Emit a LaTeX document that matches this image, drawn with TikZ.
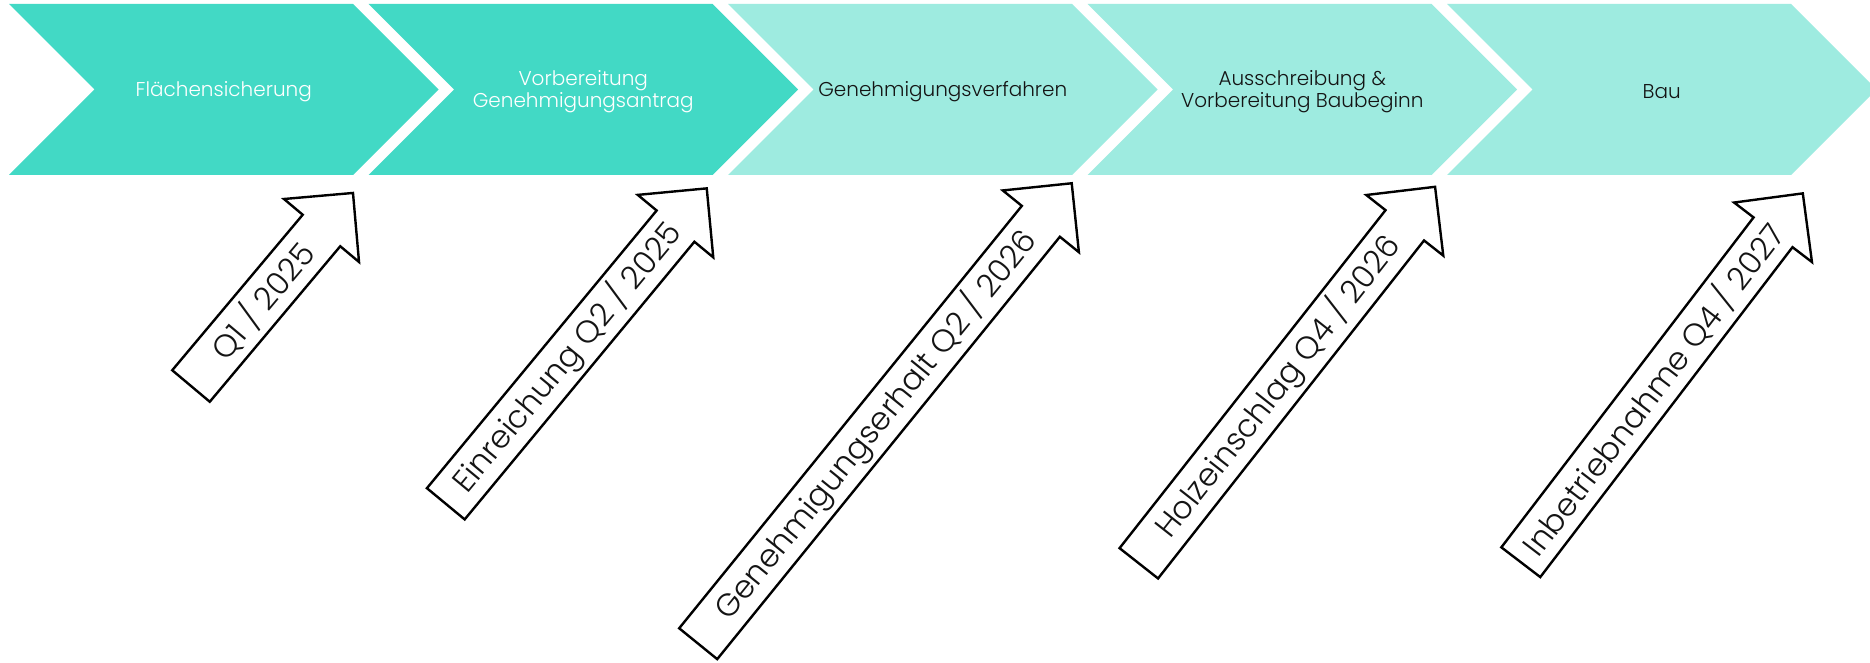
\documentclass[tikz,border=0pt]{standalone}
\usepackage{fontspec}
\setmainfont{Poppins}
\newfontfamily\lightfont{Poppins Light}
\definecolor{tealdark}{RGB}{66,217,197}
\definecolor{teallight}{RGB}{158,235,224}
\definecolor{inkblack}{RGB}{20,20,20}
\newcommand\chevronshape[2]{%
  \fill[#2] (#1,4) -- ++(344,0) -- ++(85.5,85.5) -- ++(-85.5,85.5) -- ++(-344,0) -- ++(85.5,-85.5) -- cycle;}
\newcommand\blockarrow[5]{%
  \begin{scope}[shift={#2}, rotate=#3]
    \draw[arrowline] (0,-24.5) -- ({#4-49},-24.5) -- ({#4-49},-49) -- (#4,0) -- ({#4-49},49) -- ({#4-49},24.5) -- (0,24.5) -- cycle;
    \node[arrowtext, rotate=#3] (#1) at ({(#4-49)/2+10},0) {#5};
  \end{scope}}
\begin{document}
\begin{tikzpicture}[x=1pt,y=-1pt,
  arrowline/.style={draw=black, line width=2.4pt, line join=miter, fill=white},
  arrowtext/.style={font=\lightfont\fontsize{31.5}{33}\selectfont, inner sep=0pt, anchor=center, text=inkblack},
  phasetext/.style={font=\lightfont\fontsize{20}{22}\selectfont, align=center, inner sep=0pt, anchor=center}]
\useasboundingbox (0,0) rectangle (1870,663);
\fill[white] (0,0) rectangle (1870,663);
% phases
\chevronshape{9}{tealdark}
\chevronshape{368.5}{tealdark}
\chevronshape{728}{teallight}
\chevronshape{1087.5}{teallight}
\chevronshape{1447}{teallight}
\node[phasetext, text=white] (p1) at (223.75,91.5) {Flächensicherung};
\node[phasetext, text=white] (p2) at (583.25,91.5) {Vorbereitung\\Genehmigungsantrag};
\node[phasetext, text=inkblack] (p3) at (942.75,91.5) {Genehmigungsverfahren};
\node[phasetext, text=inkblack] (p4) at (1302.25,91.5) {Ausschreibung \&\\Vorbereitung Baubeginn};
\node[phasetext, text=inkblack] (p5) at (1661.75,91.5) {Bau};
% milestones
\blockarrow{m1}{(191,386)}{50.0}{252}{Q1 / 2025}
\blockarrow{m2}{(445.8,503.8)}{50.4}{409.4}{Einreichung Q2 / 2025}
\blockarrow{m3}{(698.2,643.7)}{50.95}{592.9}{Genehmigungserhalt Q2 / 2026}
\blockarrow{m4}{(1138.8,563.3)}{51.8}{479.1}{Holzeinschlag Q4 / 2026}
\blockarrow{m5}{(1520.8,562.2)}{52.6}{464.3}{Inbetriebnahme Q4 / 2027}
\end{tikzpicture}
\end{document}
